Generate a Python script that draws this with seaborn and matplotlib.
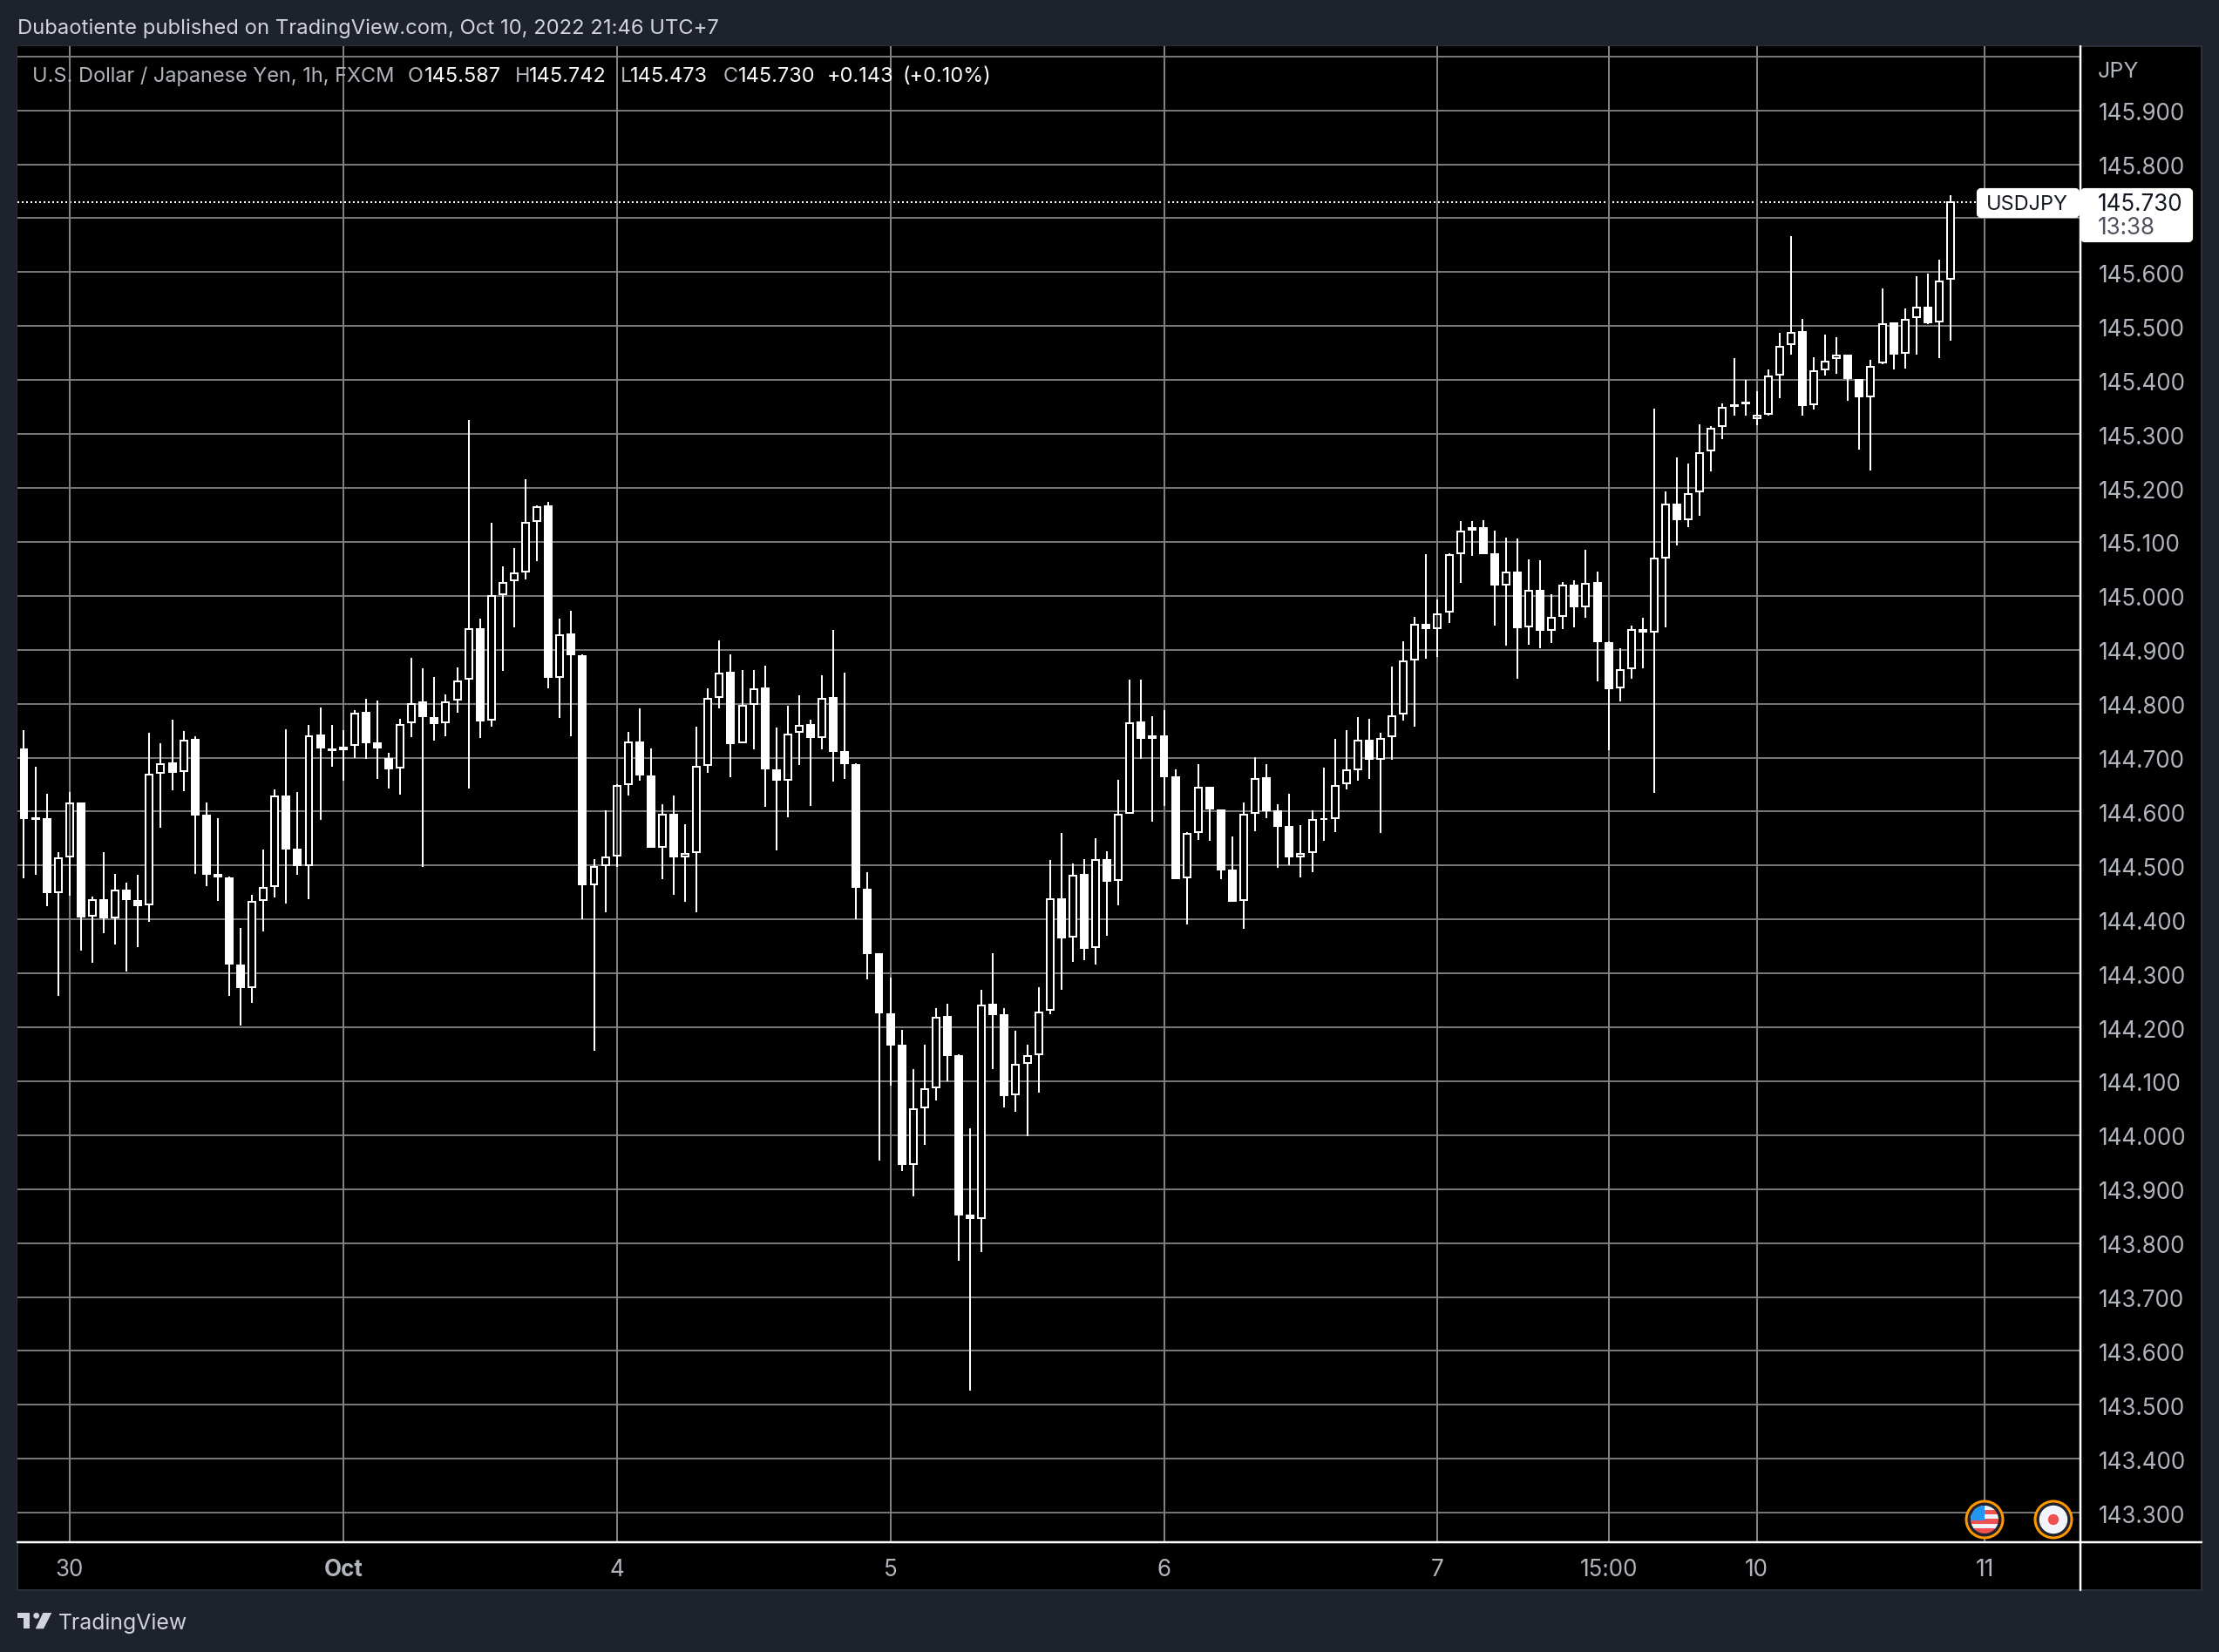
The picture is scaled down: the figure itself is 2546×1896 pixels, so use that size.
import matplotlib
matplotlib.use('Agg')
import matplotlib.pyplot as plt
from matplotlib.lines import Line2D
from matplotlib.patches import Circle, FancyBboxPatch, Polygon, Rectangle
from matplotlib.transforms import ScaledTranslation
import pandas as pd
import seaborn as sns

# hourly USDJPY candles
opens = [144.715, 144.587, 144.586, 144.451, 144.516, 144.615, 144.407, 144.436, 144.404, 144.454,
         144.435, 144.428, 144.671, 144.689, 144.675, 144.733, 144.593, 144.483, 144.477, 144.315,
         144.275, 144.436, 144.462, 144.628, 144.530, 144.500, 144.741, 144.716, 144.715, 144.724,
         144.783, 144.726, 144.697, 144.681, 144.765, 144.802, 144.774, 144.765, 144.807, 144.846,
         144.939, 144.770, 145.003, 145.028, 145.045, 145.139, 145.166, 144.850, 144.928, 144.889,
         144.465, 144.501, 144.518, 144.651, 144.729, 144.666, 144.535, 144.595, 144.517, 144.525,
         144.687, 144.813, 144.857, 144.728, 144.800, 144.828, 144.677, 144.659, 144.747, 144.760,
         144.738, 144.810, 144.710, 144.687, 144.456, 144.335, 144.225, 144.166, 143.947, 144.052,
         144.089, 144.219, 144.146, 143.851, 143.847, 144.242, 144.222, 144.075, 144.134, 144.150,
         144.232, 144.438, 144.368, 144.482, 144.348, 144.510, 144.473, 144.598, 144.765, 144.740,
         144.739, 144.663, 144.478, 144.562, 144.644, 144.602, 144.491, 144.436, 144.597, 144.662,
         144.601, 144.572, 144.516, 144.525, 144.586, 144.587, 144.652, 144.679, 144.731, 144.697,
         144.739, 144.782, 144.882, 144.946, 144.940, 144.970, 145.079, 145.126, 145.125, 145.077,
         145.020, 145.043, 144.943, 145.009, 144.937, 144.962, 145.019, 144.981, 145.024, 144.913,
         144.830, 144.866, 144.937, 144.933, 145.070, 145.170, 145.142, 145.193, 145.269, 145.315,
         145.354, 145.356, 145.330, 145.337, 145.410, 145.467, 145.489, 145.355, 145.420, 145.440,
         145.445, 145.400, 145.369, 145.433, 145.505, 145.450, 145.516, 145.535, 145.509, 145.587]
highs = [144.751, 144.683, 144.633, 144.524, 144.637, 144.617, 144.443, 144.525, 144.485, 144.469,
         144.482, 144.746, 144.727, 144.770, 144.749, 144.740, 144.617, 144.588, 144.480, 144.385,
         144.446, 144.529, 144.641, 144.753, 144.637, 144.761, 144.793, 144.761, 144.751, 144.788,
         144.809, 144.806, 144.709, 144.772, 144.885, 144.865, 144.849, 144.817, 144.867, 145.326,
         144.957, 145.135, 145.054, 145.088, 145.216, 145.167, 145.174, 144.957, 144.972, 144.891,
         144.512, 144.602, 144.651, 144.747, 144.792, 144.717, 144.613, 144.629, 144.576, 144.757,
         144.828, 144.918, 144.892, 144.862, 144.863, 144.871, 144.755, 144.796, 144.815, 144.771,
         144.852, 144.936, 144.857, 144.689, 144.487, 144.337, 144.292, 144.195, 144.122, 144.168,
         144.235, 144.244, 144.150, 144.012, 144.269, 144.337, 144.235, 144.193, 144.168, 144.274,
         144.511, 144.561, 144.503, 144.512, 144.551, 144.527, 144.659, 144.845, 144.845, 144.777,
         144.788, 144.678, 144.562, 144.688, 144.646, 144.604, 144.554, 144.617, 144.701, 144.688,
         144.614, 144.633, 144.575, 144.603, 144.682, 144.735, 144.751, 144.775, 144.772, 144.746,
         144.869, 144.916, 144.961, 145.078, 144.994, 145.079, 145.139, 145.139, 145.141, 145.121,
         145.108, 145.107, 145.068, 145.066, 145.003, 145.026, 145.028, 145.086, 145.045, 144.916,
         144.902, 144.944, 144.960, 145.347, 145.194, 145.257, 145.246, 145.318, 145.315, 145.357,
         145.441, 145.401, 145.380, 145.419, 145.488, 145.667, 145.514, 145.443, 145.485, 145.479,
         145.447, 145.402, 145.438, 145.570, 145.507, 145.533, 145.592, 145.598, 145.624, 145.742]
lows = [144.476, 144.483, 144.424, 144.258, 144.444, 144.343, 144.320, 144.375, 144.353, 144.304,
        144.348, 144.395, 144.570, 144.640, 144.638, 144.485, 144.461, 144.435, 144.258, 144.204,
        144.245, 144.377, 144.440, 144.429, 144.483, 144.437, 144.585, 144.683, 144.658, 144.699,
        144.698, 144.661, 144.643, 144.632, 144.738, 144.497, 144.731, 144.739, 144.783, 144.642,
        144.736, 144.758, 144.860, 144.941, 145.031, 145.064, 144.829, 144.773, 144.739, 144.401,
        144.156, 144.414, 144.497, 144.629, 144.658, 144.533, 144.474, 144.445, 144.433, 144.413,
        144.671, 144.792, 144.663, 144.726, 144.715, 144.608, 144.528, 144.589, 144.686, 144.610,
        144.715, 144.655, 144.660, 144.401, 144.289, 143.953, 144.092, 143.933, 143.887, 143.982,
        144.064, 144.100, 143.767, 143.527, 143.783, 144.122, 144.051, 144.044, 143.998, 144.079,
        144.224, 144.269, 144.321, 144.324, 144.316, 144.369, 144.427, 144.596, 144.698, 144.582,
        144.611, 144.474, 144.390, 144.548, 144.545, 144.475, 144.432, 144.383, 144.564, 144.587,
        144.495, 144.501, 144.478, 144.487, 144.545, 144.562, 144.641, 144.658, 144.661, 144.561,
        144.696, 144.769, 144.757, 144.884, 144.886, 144.950, 145.024, 145.074, 145.077, 144.944,
        144.907, 144.847, 144.910, 144.902, 144.913, 144.939, 144.942, 144.960, 144.842, 144.713,
        144.805, 144.847, 144.865, 144.634, 144.942, 145.093, 145.127, 145.148, 145.230, 145.291,
        145.334, 145.334, 145.317, 145.334, 145.367, 145.447, 145.334, 145.346, 145.409, 145.412,
        145.362, 145.271, 145.233, 145.429, 145.419, 145.422, 145.447, 145.503, 145.441, 145.473]
closes = [144.587, 144.586, 144.451, 144.513, 144.615, 144.406, 144.436, 144.403, 144.453, 144.437,
          144.427, 144.668, 144.688, 144.674, 144.732, 144.595, 144.485, 144.479, 144.318, 144.274,
          144.432, 144.458, 144.628, 144.532, 144.500, 144.740, 144.718, 144.714, 144.719, 144.782,
          144.729, 144.718, 144.680, 144.761, 144.800, 144.777, 144.764, 144.803, 144.842, 144.939,
          144.769, 145.000, 145.024, 145.042, 145.136, 145.165, 144.849, 144.927, 144.891, 144.465,
          144.497, 144.515, 144.647, 144.728, 144.669, 144.535, 144.595, 144.517, 144.522, 144.683,
          144.809, 144.856, 144.727, 144.796, 144.827, 144.680, 144.659, 144.743, 144.759, 144.738,
          144.809, 144.712, 144.689, 144.460, 144.337, 144.228, 144.168, 143.947, 144.049, 144.086,
          144.218, 144.148, 143.853, 143.847, 144.241, 144.224, 144.074, 144.131, 144.146, 144.228,
          144.438, 144.366, 144.481, 144.347, 144.510, 144.472, 144.594, 144.764, 144.737, 144.737,
          144.666, 144.477, 144.558, 144.644, 144.605, 144.493, 144.435, 144.594, 144.661, 144.602,
          144.574, 144.516, 144.521, 144.584, 144.586, 144.648, 144.676, 144.731, 144.697, 144.735,
          144.776, 144.878, 144.946, 144.940, 144.966, 145.075, 145.120, 145.122, 145.079, 145.020,
          145.043, 144.942, 145.009, 144.936, 144.959, 145.019, 144.980, 145.023, 144.915, 144.829,
          144.862, 144.936, 144.933, 145.069, 145.170, 145.142, 145.189, 145.264, 145.310, 145.349,
          145.352, 145.359, 145.334, 145.406, 145.462, 145.488, 145.354, 145.416, 145.435, 145.445,
          145.403, 145.369, 145.425, 145.504, 145.449, 145.512, 145.535, 145.507, 145.583, 145.730]

price_ticks = [143.3, 143.4, 143.5, 143.6, 143.7, 143.8, 143.9, 144.0, 144.1, 144.2, 144.3, 144.4, 144.5, 144.6,
               144.7, 144.8, 144.9, 145.0, 145.1, 145.2, 145.3, 145.4, 145.5, 145.6, 145.7, 145.8, 145.9, 146.0]
hidden_prices = [145.7, 146.0]
time_ticks = [4, 28, 52, 76, 100, 124, 139, 152, 172]
time_labels = ['30', 'Oct', '4', '5', '6', '7', '15:00', '10', '11']
last_price = 145.730

W, H = 2546, 1896
BG = '#1e222d'
TXT = '#b2b5be'
GRID = '#767676'
GRID_V = '#808080'
PX = 0.72  # 1 px in points at dpi 100

df = pd.DataFrame({'open': opens, 'high': highs, 'low': lows, 'close': closes})
df['bar'] = df.index
df['top'] = df[['open', 'close']].max(axis=1)
df['bottom'] = df[['open', 'close']].min(axis=1)
up = df[df.close > df.open]
down = df[df.close <= df.open]

# wicks go in two pieces so the hollow bodies stay empty
wick_up = df[['bar', 'top', 'high']].melt(id_vars='bar', value_name='price').assign(piece='u')
wick_dn = df[['bar', 'bottom', 'low']].melt(id_vars='bar', value_name='price').assign(piece='d')
wicks = pd.concat([wick_up, wick_dn])
wicks['seg'] = wicks.piece + wicks.bar.astype(str)

sns.set_theme(style='dark', rc={'axes.edgecolor': 'black', 'axes.facecolor': 'black'})
plt.rcParams['font.family'] = ['Inter', 'DejaVu Sans']

fig = plt.figure(figsize=(W / 100, H / 100), dpi=100, facecolor=BG)

# black panel behind everything, pixel coordinates
bg = fig.add_axes([0, 0, 1, 1], zorder=0)
bg.set_xlim(0, W)
bg.set_ylim(H, 0)
bg.axis('off')
bg.add_patch(Rectangle((20, 53), 2506, 1772, fc='black', ec='#2a2e39', lw=1.5))

left, right, top, bottom = 20, 2386.5, 53, 1769
ax = fig.add_axes([left / W, 1 - bottom / H, (right - left) / W, (bottom - top) / H], zorder=1)
ax.set_facecolor('black')

ax.bar(up.bar, up.top - up.bottom, bottom=up.bottom, width=0.61, color='black', lw=0, zorder=2)
ax.vlines(time_ticks, 143.0, 146.5, color=GRID_V, lw=2 * PX, zorder=2.2)
sns.lineplot(data=wicks, x='bar', y='price', units='seg', estimator=None, color='white',
             lw=2 * PX, ax=ax, zorder=2.5, legend=False, solid_capstyle='butt')
ax.bar(up.bar, up.top - up.bottom, bottom=up.bottom, width=0.61, fc='none', ec='white', lw=2 * PX, zorder=3)
ax.bar(down.bar, down.top - down.bottom, bottom=down.bottom, width=0.61, fc='white', ec='white', lw=2 * PX, zorder=3)

ax.axhline(last_price, color='white', lw=2 * PX, ls=(0, (1, 1.5)), zorder=1.5)

ax.set_xlim(-0.573, 180.35)
ax.set_ylim(143.247, 146.019)
ax.set_xlabel('')
ax.set_ylabel('')
ax.set_yticks(price_ticks)
ax.set_yticklabels(['' if p in hidden_prices else f'{p:.3f}' for p in price_ticks])
ax.yaxis.tick_right()
ax.set_xticks(time_ticks)
ax.set_xticklabels(time_labels)
ax.tick_params(axis='y', length=0, pad=21 * PX, labelsize=26 * PX, labelcolor=TXT)
ax.tick_params(axis='x', length=0, pad=20 * PX, labelsize=26 * PX, labelcolor=TXT)
ax.get_xticklabels()[1].set_fontweight('bold')
nudge = ScaledTranslation(0, -1.5 / 100, fig.dpi_scale_trans)
for lbl in ax.get_yticklabels():
    lbl.set_transform(lbl.get_transform() + nudge)
ax.grid(True, axis='y', color=GRID, lw=2 * PX, zorder=1)
ax.grid(False, axis='x')
ax.set_axisbelow(True)
for s in ax.spines.values():
    s.set_visible(False)

# overlay for the TradingView furniture
ov = fig.add_axes([0, 0, 1, 1], zorder=2)
ov.set_xlim(0, W)
ov.set_ylim(H, 0)
ov.axis('off')
ov.patch.set_alpha(0)

ov.add_artist(Line2D([20, 2526], [1770, 1770], color='white', lw=2.5 * PX))
ov.add_artist(Line2D([2387, 2387], [53, 1825], color='white', lw=2.5 * PX))


def label(x, y, s, color=TXT, size=26, ha='left', **kw):
    ov.text(x, y, s, color=color, fontsize=size * PX, ha=ha, va='center', **kw)


label(20, 33, 'Dubaotiente published on TradingView.com, Oct 10, 2022 21:46 UTC+7', color='#d1d4dc', size=23.8)
label(37, 88, 'U.S. Dollar / Japanese Yen, 1h, FXCM', size=23.5)
for x, s, c in [(468, 'O', TXT), (487, '145.587', 'white'), (591, 'H', TXT), (607, '145.742', 'white'),
                (712, 'L', TXT), (723, '145.473', 'white'), (830, 'C', TXT), (847, '145.730', 'white'),
                (949, '+0.143', 'white'), (1035, '(+0.10%)', 'white')]:
    label(x, 88, s, color=c, size=23.5)
label(2407, 82, 'JPY', size=25)

# last price tags
ov.add_patch(FancyBboxPatch((2270, 218), 114, 30, boxstyle='round,pad=0,rounding_size=3', fc='white', ec='white', lw=3))
ov.add_patch(FancyBboxPatch((2389, 218), 125, 58, boxstyle='round,pad=0,rounding_size=3', fc='white', ec='white', lw=3))
label(2326, 235, 'USDJPY', color='#131722', ha='center', size=23.5)
label(2407, 235, '145.730', color='#131722')
label(2407, 262, '13:38', color='#50535e')

# currency badges
for cx in (2277, 2356):
    ov.add_patch(Circle((cx, 1744), 21, fc=BG, ec='#ff9800', lw=3 * PX, zorder=5))
ov.add_patch(Circle((2356, 1744), 15.5, fc='#f0f3fa', zorder=6))
ov.add_patch(Circle((2356, 1744), 7, fc='#f05050', zorder=7))
disc = Circle((2277, 1744), 16, transform=ov.transData)
for y0, c in [(1728, '#f0f3fa'), (1733, '#f05050'), (1738, '#f0f3fa'), (1743, '#f05050'), (1749, '#f0f3fa'), (1754, '#f05050')]:
    r = Rectangle((2260, y0), 34, 6, fc=c, lw=0, zorder=6)
    ov.add_patch(r)
    r.set_clip_path(disc)
r = Rectangle((2260, 1727), 17, 18, fc='#2196f3', lw=0, zorder=7)
ov.add_patch(r)
r.set_clip_path(disc)

# logo
ov.add_patch(Polygon([(20, 1851), (34.3, 1851), (34.3, 1869.3), (27.3, 1869.3), (27.3, 1857.3), (20, 1857.3)], fc='#d1d4dc', lw=0))
ov.add_patch(Circle((41.7, 1854.3), 3.4, fc='#d1d4dc', lw=0))
ov.add_patch(Polygon([(49.3, 1851), (59.3, 1851), (50, 1869.3), (40.7, 1869.3)], fc='#d1d4dc', lw=0))
label(67, 1863, 'TradingView', color='#d1d4dc', size=24.8)

fig.savefig('out.png', dpi=100, facecolor=BG)
plt.close(fig)
